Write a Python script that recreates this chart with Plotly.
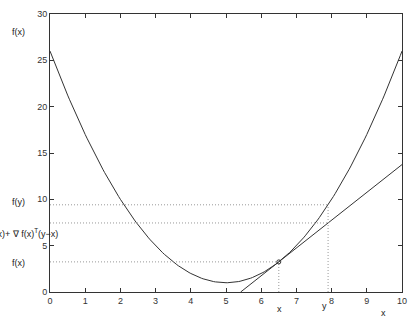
import numpy as np
import plotly.graph_objects as go

# data
x_curve = np.linspace(0, 10, 201)
f_curve = (x_curve - 5) ** 2 + 1
x0 = 6.5
fx0 = (x0 - 5) ** 2 + 1
grad = 2 * (x0 - 5)
y0 = 7.9
fy0 = (y0 - 5) ** 2 + 1
tan_y0 = fx0 + grad * (y0 - x0)
t_start = x0 - fx0 / grad
t_x = [t_start, 10]
t_y = [fx0 + grad * (v - x0) for v in t_x]

line_col = "#333333"
dot_col = "#999999"

fig = go.Figure()
fig.add_trace(go.Scatter(x=x_curve, y=f_curve, mode="lines",
                         line=dict(color=line_col, width=1)))
fig.add_trace(go.Scatter(x=t_x, y=t_y, mode="lines",
                         line=dict(color=line_col, width=1)))
# dotted guides
for xs, ys in [([0, y0], [fy0, fy0]), ([0, y0], [tan_y0, tan_y0]),
               ([0, x0], [fx0, fx0]), ([x0, x0], [0, fx0]),
               ([y0, y0], [0, fy0])]:
    fig.add_trace(go.Scatter(x=xs, y=ys, mode="lines",
                             line=dict(color=dot_col, width=1, dash="1px,2px")))
fig.add_trace(go.Scatter(x=[x0], y=[fx0], mode="markers",
                         marker=dict(symbol="circle-open", size=4,
                                     color=line_col, line=dict(width=1))))

font = dict(family="Liberation Sans, Arial", size=9, color="#222222")
ann = [
    dict(x=-0.0896, y=0.936, text="f(x)", xanchor="center"),
    dict(x=-0.0896, y=0.323, text="f(y)", xanchor="center"),
    dict(x=0.028, y=0.213, text="f(x)+ \u2207 f(x)<sup>T</sup>(y\u2212x)", xanchor="right"),
    dict(x=-0.0896, y=0.106, text="f(x)", xanchor="center"),
    dict(x=0.653, y=-0.060, text="x", xanchor="center"),
    dict(x=0.779, y=-0.052, text="y", xanchor="center"),
    dict(x=0.947, y=-0.077, text="x", xanchor="center"),
]
for a in ann:
    fig.add_annotation(xref="paper", yref="paper", showarrow=False,
                       yanchor="middle", font=font, **a)

axis_common = dict(showgrid=False, zeroline=False, showline=True,
                   linecolor="#333333", linewidth=1, mirror="ticks",
                   ticks="inside", ticklen=4, tickcolor="#333333",
                   tickfont=dict(family="Liberation Sans, Arial", size=9,
                                 color="#333333"))
fig.update_xaxes(range=[0, 10], tickvals=list(range(11)), **axis_common)
fig.update_yaxes(range=[0, 30], tickvals=list(range(0, 31, 5)), **axis_common)
fig.update_layout(width=416, height=324, showlegend=False,
                  margin=dict(l=50, r=9, t=9, b=32),
                  plot_bgcolor="white", paper_bgcolor="white")
fig.write_html("out.html")
